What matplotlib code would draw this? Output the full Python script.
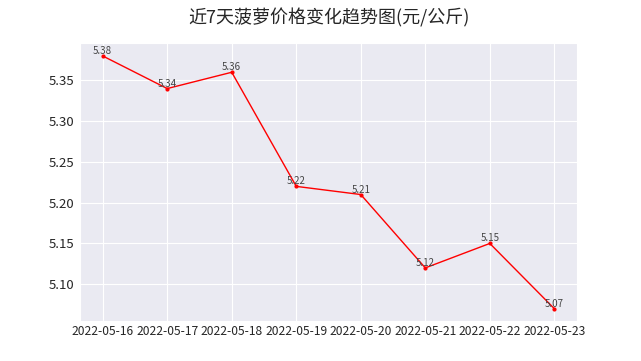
import matplotlib
matplotlib.use('Agg')
from matplotlib import pyplot as plt
import seaborn as sns

dates = ['2022-05-16', '2022-05-17', '2022-05-18', '2022-05-19',
         '2022-05-20', '2022-05-21', '2022-05-22', '2022-05-23']
prices = [5.38, 5.34, 5.36, 5.22, 5.21, 5.12, 5.15, 5.07]

sns.set_style('darkgrid')
plt.rcParams['font.family'] = ['Noto Sans CJK SC', 'DejaVu Sans']
plt.rcParams['axes.unicode_minus'] = False

fig = plt.figure(figsize=(6.41, 3.61), dpi=100)
plt.plot(dates, prices, color='red', marker='o', markersize=2, linewidth=1)
for d, p in zip(dates, prices):
    plt.text(d, p, str(p), ha='center', va='bottom', fontsize=7, color='#444444')
plt.title('近7天菠萝价格变化趋势图(元/公斤)', fontsize=13, pad=14)
plt.xticks(fontsize=8.7)
plt.yticks(fontsize=9.5)
plt.tick_params(axis='x', pad=-1)
plt.tick_params(axis='y', pad=1)
plt.savefig('out.png')
plt.close()
